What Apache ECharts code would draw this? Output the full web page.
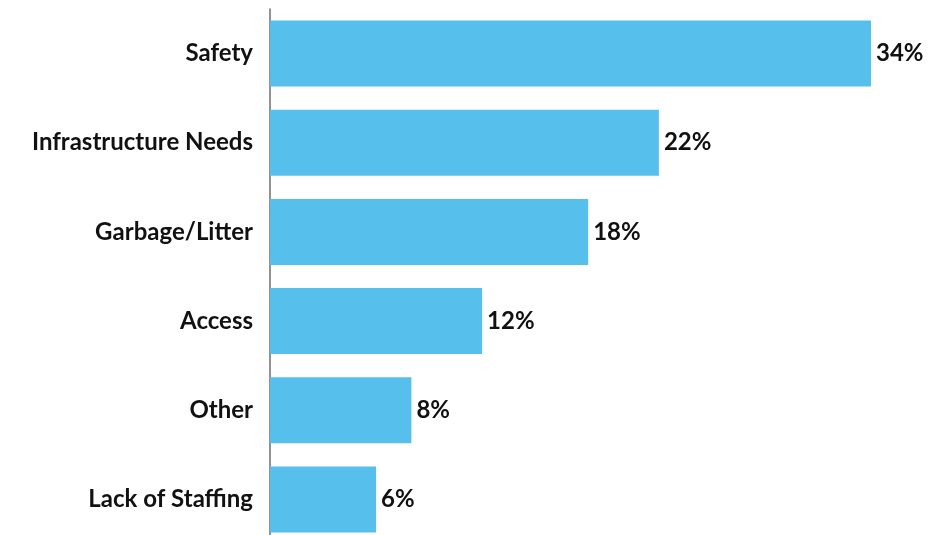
<!DOCTYPE html>
<html>
<head>
<meta charset="utf-8">
<script src="https://cdn.jsdelivr.net/npm/echarts@6/dist/echarts.min.js"></script>
<style>
  html, body { margin: 0; padding: 0; background: #ffffff; }
  #chart { width: 935px; height: 535px; }
</style>
</head>
<body>
<div id="chart"></div>
<script>
// Survey responses: share of concerns by topic (percent)
const categories = ['Safety', 'Infrastructure Needs', 'Garbage/Litter', 'Access', 'Other', 'Lack of Staffing'];
const shares = [34, 22, 18, 12, 8, 6];

const chart = echarts.init(document.getElementById('chart'));
const fontFamily = 'Lato, "Noto Sans", sans-serif';

chart.setOption({
  animation: false,
  // the plot runs slightly past the bottom edge, so the last band is cropped
  grid: { left: 270, top: 9, width: 601, bottom: -9, outerBoundsMode: 'none' },
  xAxis: {
    type: 'value',
    min: 0,
    max: 34,
    show: false
  },
  yAxis: {
    type: 'category',
    data: categories,
    inverse: true,
    axisLine: { show: true, lineStyle: { color: '#6e6e6e', width: 1.5 } },
    axisTick: { show: false },
    axisLabel: {
      margin: 17,
      color: '#111111',
      fontFamily: fontFamily,
      fontWeight: 'bold',
      fontSize: 24
    }
  },
  series: [{
    type: 'bar',
    data: shares,
    barCategoryGap: '26%',
    itemStyle: { color: '#56BFEC' },
    label: {
      show: true,
      position: 'right',
      distance: 5,
      formatter: '{c}%',
      color: '#111111',
      fontFamily: fontFamily,
      fontWeight: 'bold',
      fontSize: 24
    }
  }]
});
</script>
</body>
</html>
